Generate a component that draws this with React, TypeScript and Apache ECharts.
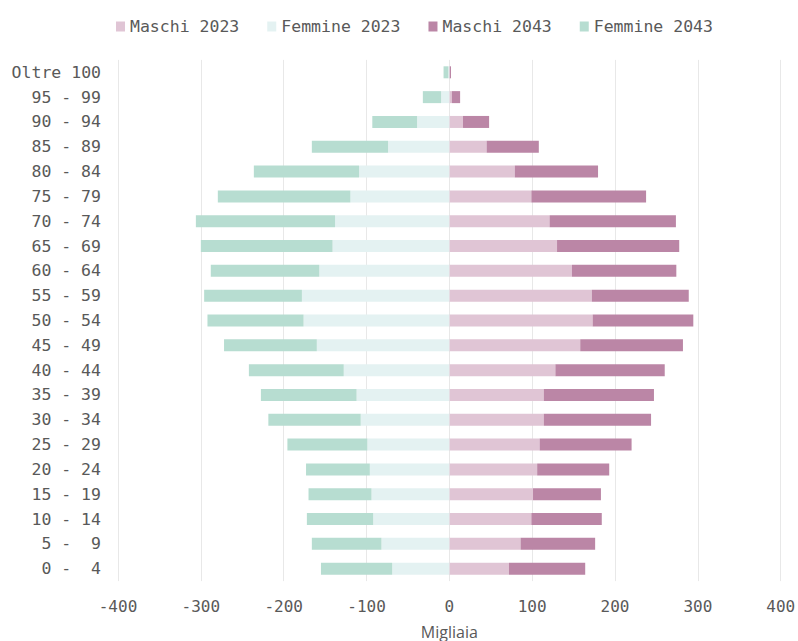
import React, { useEffect, useRef } from "react";
import * as echarts from "echarts";

// Age classes, youngest first (bottom of the pyramid)
const ageClasses = [
  "0 -  4", "5 -  9", "10 - 14", "15 - 19", "20 - 24", "25 - 29", "30 - 34",
  "35 - 39", "40 - 44", "45 - 49", "50 - 54", "55 - 59", "60 - 64", "65 - 69",
  "70 - 74", "75 - 79", "80 - 84", "85 - 89", "90 - 94", "95 - 99", "Oltre 100",
];

// Thousands of people; the 2043 values are the stacked increments
const maschi2023 = [72, 86, 99, 101, 106, 109, 114, 114, 128, 158, 173, 172, 148, 130, 121, 99, 79, 45, 16.5, 3, 0.5];
const maschi2043 = [92, 90, 85, 82, 87, 111, 129.5, 133, 132, 124, 121.5, 117, 126, 147.5, 152.5, 138.5, 100.5, 63, 31.5, 10, 1.5];
const femmine2023 = [69, 82, 92, 94, 96, 99, 107, 112, 127.5, 160, 176, 178, 157, 141, 138, 119.5, 109, 74, 39, 10, 1.2];
const femmine2043 = [86, 84, 80, 76, 77, 96.5, 111.5, 115.5, 114.5, 112, 116, 118, 131, 159, 168, 160, 127, 92, 54, 22, 5.8];

const xTicks = { min: -400, max: 400, interval: 100 };

const COLORS = {
  m23: "#e0c5d5",
  f23: "#e4f2f2",
  m43: "#bb86a6",
  f43: "#b7ddd1",
};

const WIDTH = 798;
const HEIGHT = 641;
const MONO = "DejaVu Sans Mono";
const TEXT = "#595959";

export default function App() {
  const ref = useRef<HTMLDivElement>(null);

  useEffect(() => {
    if (!ref.current) return;
    document.body.style.margin = "0";
    const chart = echarts.init(ref.current, undefined, {
      renderer: "svg",
      width: WIDTH,
      height: HEIGHT,
    });
    const neg = (arr: number[]) => arr.map((v) => -v);
    const bar = (name: string, data: number[], color: string) => ({
      name,
      type: "bar" as const,
      stack: "pyramid",
      data,
      barWidth: 12,
      itemStyle: { color },
      emphasis: { disabled: true },
    });
    chart.setOption({
      animation: false,
      legend: {
        top: 13,
        left: 111,
        itemWidth: 9,
        itemHeight: 10,
        itemGap: 28,
        icon: "rect",
        textStyle: { fontFamily: MONO, fontSize: 16.5, color: TEXT },
      },
      grid: {
        left: 118,
        right: 17.3,
        top: 59.9,
        bottom: 59.9,
        outerBoundsMode: "none",
      },
      xAxis: {
        type: "value",
        min: xTicks.min,
        max: xTicks.max,
        interval: xTicks.interval,
        name: "Migliaia",
        nameLocation: "middle",
        nameGap: 43,
        nameTextStyle: { fontFamily: "Open Sans", fontSize: 16, color: TEXT },
        axisLine: { show: false },
        axisTick: { show: false },
        axisLabel: { fontFamily: MONO, fontSize: 16, color: TEXT, margin: 17 },
        splitLine: { show: true, lineStyle: { color: "#e8e8e8", width: 1 } },
      },
      yAxis: {
        type: "category",
        data: ageClasses,
        axisLine: { show: false },
        axisTick: { show: false },
        axisLabel: { fontFamily: MONO, fontSize: 16.5, color: TEXT, margin: 17 },
      },
      series: [
        bar("Maschi 2023", maschi2023, COLORS.m23),
        bar("Femmine 2023", neg(femmine2023), COLORS.f23),
        bar("Maschi 2043", maschi2043, COLORS.m43),
        bar("Femmine 2043", neg(femmine2043), COLORS.f43),
      ],
    });
    return () => chart.dispose();
  }, []);

  return (
    <div
      ref={ref}
      style={{ width: WIDTH, height: HEIGHT, background: "#ffffff", overflow: "hidden" }}
    />
  );
}
